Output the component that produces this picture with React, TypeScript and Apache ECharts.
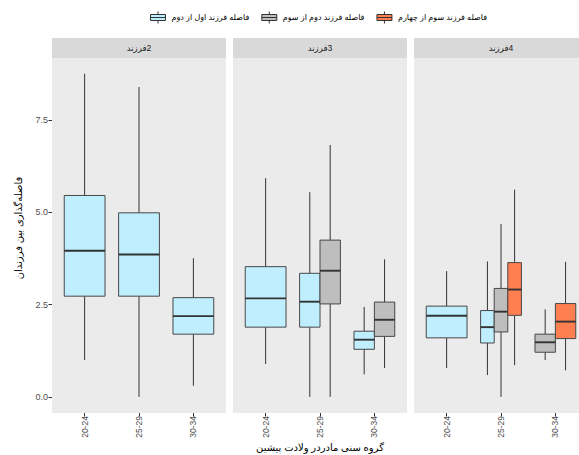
import React, { useEffect, useRef } from 'react';
import * as echarts from 'echarts';

// Facet strip labels (RLM keeps the digit on the right, as in the reference)
const facetLabels = ['\u200F2فرزند', '\u200F3فرزند', '\u200F4فرزند'];
const ageGroups = ['20-24', '25-29', '30-34'];
const groupNames = ['فاصله فرزند اول از دوم', 'فاصله فرزند دوم از سوم', 'فاصله فرزند سوم از چهارم'];
const groupColors = ['#BFEFFF', '#BEBEBE', '#FF7F50'];
const yTicks = [0, 2.5, 5, 7.5];
const yTitle = 'فاصله‌گذاری بین فرزندان';
const xTitle = 'گروه سنی مادردر ولادت پیشین';

// rows: [facetIndex, ageIndex, lowerWhisker, q1, median, q3, upperWhisker]
const firstToSecond = [
  [0, 0, 1.0, 2.73, 3.96, 5.46, 8.76],
  [0, 1, 0.0, 2.73, 3.86, 4.99, 8.4],
  [0, 2, 0.3, 1.7, 2.19, 2.69, 3.76],
  [1, 0, 0.89, 1.89, 2.67, 3.53, 5.93],
  [1, 1, 0.0, 1.89, 2.58, 3.35, 5.55],
  [1, 2, 0.61, 1.29, 1.55, 1.78, 2.44],
  [2, 0, 0.78, 1.6, 2.2, 2.46, 3.41],
  [2, 1, 0.59, 1.46, 1.89, 2.34, 3.67],
];
const secondToThird = [
  [1, 1, 0.0, 2.52, 3.42, 4.25, 6.83],
  [1, 2, 0.78, 1.64, 2.09, 2.57, 3.73],
  [2, 1, 0.0, 1.76, 2.31, 2.94, 4.69],
  [2, 2, 1.0, 1.21, 1.48, 1.7, 2.37],
];
const thirdToFourth = [
  [2, 1, 0.86, 2.21, 2.91, 3.64, 5.62],
  [2, 2, 0.72, 1.58, 2.04, 2.53, 3.66],
];
const groupRows = [firstToSecond, secondToThird, thirdToFourth];

const FONT = '"Liberation Sans", Arial, "DejaVu Sans", sans-serif';

const renderBox = (params: any, api: any) => {
  const x = api.value(0);
  const n = api.value(6);
  const k = api.value(7);
  const cx = api.coord([x, 0])[0];
  const unit = api.size([1, 0])[0];
  const total = unit * 0.75;
  const bw = total / n;
  const c = cx - total / 2 + (k + 0.5) * bw;
  const y = (i: number) => api.coord([x, api.value(i)])[1];
  const yLow = y(1), yQ1 = y(2), yMed = y(3), yQ3 = y(4), yHigh = y(5);
  const color = api.visual('color');
  const stroke = '#333333';
  return {
    type: 'group',
    children: [
      { type: 'line', shape: { x1: c, y1: yHigh, x2: c, y2: yQ3 }, style: { stroke, lineWidth: 1 } },
      { type: 'line', shape: { x1: c, y1: yQ1, x2: c, y2: yLow }, style: { stroke, lineWidth: 1 } },
      {
        type: 'rect',
        shape: { x: c - bw / 2, y: yQ3, width: bw, height: yQ1 - yQ3 },
        style: { fill: color, stroke: '#474747', lineWidth: 1 },
      },
      {
        type: 'line',
        shape: { x1: c - bw / 2, y1: yMed, x2: c + bw / 2, y2: yMed },
        style: { stroke, lineWidth: 1.9 },
      },
    ],
  };
};

export default function App() {
  const ref = useRef<HTMLDivElement>(null);
  useEffect(() => {
    if (!ref.current) return;
    const chart = echarts.init(ref.current, undefined, { renderer: 'svg' });

    const panelLeft = [52, 233, 414];
    const panelWidth = 174;
    const panelTop = 58;
    const panelHeight = 355;
    const stripHeight = 20;

    const grids = panelLeft.map((l) => ({
      left: l,
      top: panelTop,
      width: panelWidth,
      height: panelHeight,
      show: true,
      backgroundColor: '#EBEBEB',
      borderWidth: 0,
      outerBoundsMode: 'none',
      containLabel: false,
    }));

    const xAxes = panelLeft.map((_, i) => ({
      type: 'value',
      gridIndex: i,
      position: 'bottom',
      min: 0.4,
      max: 3.6,
      axisLine: { show: false, onZero: false },
      splitLine: { show: false },
      axisTick: {
        show: true,
        length: 3.5,
        lineStyle: { color: '#333333', width: 1 },
        customValues: [1, 2, 3],
      },
      axisLabel: {
        show: true,
        rotate: 90,
        margin: 3,
        fontSize: 8.5,
        color: '#4D4D4D',
        fontFamily: FONT,
        customValues: [1, 2, 3],
        formatter: (v: number) => ageGroups[Math.round(v) - 1] ?? '',
      },
    }));

    const yAxes = panelLeft.map((_, i) => ({
      type: 'value',
      gridIndex: i,
      position: 'left',
      min: -0.4375,
      max: 9.1875,
      axisLine: { show: false, onZero: false },
      splitLine: { show: false },
      axisTick: {
        show: i === 0,
        length: 3.5,
        lineStyle: { color: '#333333', width: 1 },
        customValues: yTicks,
      },
      axisLabel: {
        show: i === 0,
        margin: 4,
        fontSize: 9,
        color: '#4D4D4D',
        fontFamily: FONT,
        customValues: yTicks,
        formatter: (v: number) => v.toFixed(1),
      },
    }));

    // dodge information: which groups are present in each facet/age cell
    const present = (f: number, a: number) =>
      groupRows.map((rows, g) => (rows.some((r) => r[0] === f && r[1] === a) ? g : -1)).filter((g) => g >= 0);

    const series: any[] = [];
    groupRows.forEach((rows, g) => {
      [0, 1, 2].forEach((f) => {
        const data = rows
          .filter((r) => r[0] === f)
          .map((r) => {
            const list = present(f, r[1]);
            return { value: [r[1] + 1, r[2], r[3], r[4], r[5], r[6], list.length, list.indexOf(g)] };
          });
        if (!data.length) return;
        series.push({
          type: 'custom',
          name: groupNames[g],
          xAxisIndex: f,
          yAxisIndex: f,
          itemStyle: { color: groupColors[g] },
          encode: { x: 0, y: [1, 2, 3, 4, 5] },
          renderItem: renderBox,
          data,
        });
      });
    });

    const graphics: any[] = [];
    panelLeft.forEach((l, i) => {
      graphics.push({
        type: 'rect',
        shape: { x: l, y: panelTop - stripHeight, width: panelWidth, height: stripHeight },
        style: { fill: '#D9D9D9' },
        silent: true,
      });
      graphics.push({
        type: 'text',
        x: l + panelWidth / 2,
        y: panelTop - stripHeight / 2,
        style: {
          text: facetLabels[i],
          fill: '#1A1A1A',
          fontSize: 8.5,
          fontFamily: FONT,
          align: 'center',
          verticalAlign: 'middle',
        },
        silent: true,
      });
    });
    graphics.push({
      type: 'text',
      x: 18,
      y: 228,
      rotation: Math.PI / 2,
      style: {
        text: yTitle,
        fill: '#000000',
        fontSize: 10,
        fontFamily: FONT,
        align: 'center',
        verticalAlign: 'middle',
      },
      silent: true,
    });
    graphics.push({
      type: 'text',
      x: 320,
      y: 447,
      style: {
        text: xTitle,
        fill: '#000000',
        fontSize: 10,
        fontFamily: FONT,
        align: 'center',
        verticalAlign: 'middle',
      },
      silent: true,
    });

    const keyIcon = 'path://M1,3H16V9H1ZM1,6H16M8.5,0V3M8.5,9V12';

    chart.setOption({
      animation: false,
      backgroundColor: '#FFFFFF',
      textStyle: { fontFamily: FONT },
      legend: {
        left: 145,
        top: 6,
        itemWidth: 17,
        itemHeight: 12,
        itemGap: 12,
        selectedMode: false,
        textStyle: { fontSize: 8, color: '#000000', fontFamily: FONT, padding: [0, 0, 0, 0] },
        data: groupNames.map((name, g) => ({
          name,
          icon: keyIcon,
          itemStyle: { color: groupColors[g], borderColor: '#333333', borderWidth: 1 },
        })),
      },
      grid: grids,
      xAxis: xAxes,
      yAxis: yAxes,
      series,
      graphic: graphics,
    } as any);

    return () => chart.dispose();
  }, []);

  return (
    <div
      ref={ref}
      style={{ position: 'absolute', left: 0, top: 0, width: 579, height: 455, background: '#fff' }}
    />
  );
}
